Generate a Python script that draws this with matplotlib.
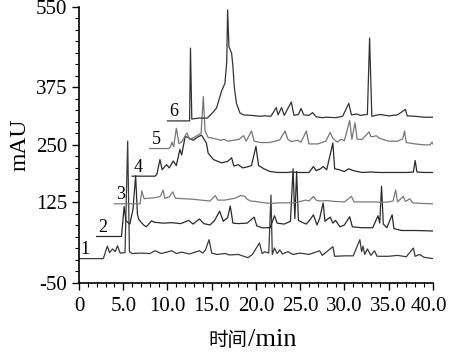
import matplotlib
matplotlib.use("Agg")
import matplotlib.pyplot as plt
import matplotlib.transforms as mtrans
from matplotlib.ticker import MultipleLocator

plt.rcParams['font.family'] = ['Liberation Serif', 'Noto Sans CJK SC']
plt.rcParams['axes.unicode_minus'] = False

# six stacked chromatograms (time in min, signal in mAU as plotted)
t1_time = [0, 2.75, 3.2, 3.45, 3.8, 4.1, 4.35, 4.65, 5.2, 5.5, 5.7, 6.0, 7.0, 8.0, 8.6, 9.3,
           10.5, 11.0, 11.6, 12.5, 13.6, 14.0, 14.3, 14.7, 15.0, 15.6, 16.5, 17.0, 18.0, 19.1,
           19.6, 20.4, 20.7, 21.0, 21.45, 21.7, 21.85, 22.1, 22.4, 22.7, 23.0, 23.6, 24.2, 25.0,
           26.0, 27.2, 27.5, 28.7, 28.9, 30.0, 31.0, 31.75, 31.95, 32.1, 32.3, 32.6, 33.0, 33.4,
           33.7, 35.0, 36.0, 37.0, 37.8, 38.0, 38.5, 39.0, 40.0]
t1_mau = [3, 3, 30, 16, 24, 18, 31, 15, 16, 258, 18, 14, 15, 14, 20, 14,
          20, 14, 17, 13, 20, 15, 22, 44, 15, 12, 14, 11, 12, 5,
          12, 37, 14, 18, 15, 141, 12, 26, 14, 22, 13, 18, 12, 15,
          12, 20, 10, 29, 8, 9, 9, 44, 18, 30, 12, 24, 10, 20,
          8, 8, 10, 7, 26, 8, 12, 6, 3]

t2_time = [2.0, 4.8, 5.1, 5.3, 5.75, 6.1, 6.4, 6.6, 6.75, 7.3, 7.6, 8.2, 8.5, 9.5, 10.5, 11.5,
           12.4, 12.9, 13.6, 14.1, 14.8, 15.3, 15.9, 16.3, 16.8, 17.1, 17.4, 18.0, 19.0, 19.5,
           19.8, 20.1, 20.7, 21.6, 22.1, 22.4, 23.2, 23.9, 24.2, 24.4, 24.6, 24.8, 25.3, 25.7,
           26.1, 26.5, 26.9, 27.2, 27.6, 27.8, 28.4, 28.7, 29.0, 29.5, 30.0, 30.6, 30.9, 32.0,
           33.2, 33.8, 34.0, 34.2, 34.4, 34.8, 35.4, 35.6, 36.5, 38.0, 40.0]
t2_mau = [51, 51, 116, 85, 78, 110, 183, 100, 88, 76, 72, 85, 82, 80, 81, 79,
          86, 78, 89, 79, 76, 85, 106, 84, 92, 117, 80, 79, 80, 88,
          93, 74, 70, 70, 96, 80, 78, 84, 198, 90, 192, 86, 81, 78,
          87, 98, 76, 90, 124, 84, 93, 80, 86, 72, 76, 94, 72, 70,
          70, 96, 80, 160, 78, 70, 98, 68, 64, 64, 63]

t3_time = [4.0, 6.9, 7.1, 7.35, 7.8, 8.5, 9.2, 9.5, 9.7, 10.2, 10.6, 10.9, 11.8, 12.8, 13.8,
           14.8, 15.4, 15.7, 16.5, 17.6, 18.3, 18.75, 19.0, 19.4, 20.0, 21.0, 21.8, 22.5, 23.5,
           24.3, 25.0, 25.6, 26.0, 26.5, 26.8, 27.2, 28.0, 29.0, 30.0, 30.8, 31.1, 32.5, 33.6,
           34.2, 35.0, 35.5, 35.8, 36.0, 36.65, 36.9, 37.4, 37.7, 38.5, 40.0]
t3_mau = [122, 122, 150, 133, 134, 135, 138, 152, 134, 137, 148, 134, 133, 132, 130,
          128, 140, 130, 130, 134, 140, 138, 132, 128, 127, 124, 123, 124, 124,
          124, 127, 130, 128, 138, 130, 128, 129, 127, 126, 138, 126, 126, 126,
          125, 126, 128, 152, 126, 138, 127, 133, 124, 123, 122]

t4_time = [6.0, 8.6, 8.8, 9.15, 9.4, 9.9, 10.2, 10.65, 11.0, 11.4, 11.6, 12.0, 12.35, 12.9,
           13.5, 13.85, 14.4, 14.6, 15.2, 16.1, 16.8, 17.25, 17.5, 18.0, 18.5, 19.0, 19.5,
           20.0, 20.3, 20.9, 21.6, 22.5, 23.5, 24.0, 25.0, 26.0, 26.5, 26.8, 27.3, 27.6, 28.0,
           28.7, 28.9, 29.4, 30.0, 30.5, 31.0, 32.0, 33.0, 34.0, 35.0, 36.0, 37.0, 37.8, 38.0,
           38.2, 39.0, 40.0]
t4_mau = [182, 182, 186, 218, 196, 207, 200, 215, 205, 240, 228, 268, 266, 260,
          268, 271, 254, 232, 218, 211, 214, 222, 204, 207, 200, 202, 205,
          247, 205, 198, 192, 190, 190, 191, 190, 190, 203, 194, 198, 203, 196,
          254, 198, 196, 192, 198, 194, 190, 191, 190, 190, 190, 190, 191, 216,
          191, 190, 190]

t5_time = [8.0, 10.2, 10.35, 10.5, 10.7, 11.0, 11.3, 11.6, 12.2, 12.5, 13.0, 13.5, 13.8, 14.05,
           14.25, 14.6, 15.0, 16.0, 16.4, 16.8, 17.5, 18.1, 18.6, 18.9, 19.5, 19.8, 20.5, 21.5,
           22.2, 22.7, 23.3, 23.6, 24.0, 24.7, 25.1, 25.7, 26.0, 27.0, 27.9, 28.4, 28.7, 29.2,
           29.6, 30.0, 30.6, 30.85, 31.2, 31.45, 32.0, 32.8, 33.0, 33.3, 33.6, 34.0, 35.0, 36.0,
           36.6, 36.8, 37.0, 38.0, 39.0, 39.7, 39.9, 40.0]
t5_mau = [242, 242, 246, 256, 246, 286, 253, 256, 276, 262, 266, 272, 275, 355,
          280, 266, 265, 260, 262, 258, 260, 262, 270, 258, 280, 258, 255, 255,
          258, 261, 280, 262, 257, 260, 256, 280, 252, 252, 258, 277, 264, 256,
          262, 259, 303, 262, 298, 262, 262, 278, 268, 268, 270, 264, 258, 258,
          263, 280, 255, 252, 250, 250, 256, 252]

t6_time = [10.0, 12.5, 12.6, 12.75, 13.5, 14.5, 15.2, 15.55, 16.1, 16.5, 16.7, 16.8, 16.95,
           17.25, 17.4, 17.55, 17.8, 18.2, 18.6, 19.5, 20.5, 21.0, 21.7, 22.3, 22.5, 22.9,
           23.2, 24.0, 24.3, 24.8, 25.1, 25.4, 26.0, 26.4, 26.8, 27.5, 28.0, 29.0, 29.8, 30.5,
           30.8, 31.4, 31.8, 32.6, 32.85, 33.1, 34.0, 35.0, 36.0, 36.9, 37.1, 38.0, 39.0, 40.0]
t6_mau = [302, 302, 460, 306, 308, 308, 322, 330, 366, 384, 430, 543, 463,
          449, 420, 376, 340, 319, 315, 314, 312, 313, 312, 331, 315, 331,
          314, 343, 314, 316, 329, 315, 314, 320, 311, 309, 310, 309, 312, 340,
          315, 317, 314, 316, 482, 312, 316, 313, 315, 327, 313, 312, 310, 310]

trace_names = ["1", "2", "3", "4", "5", "6"]
xtick_labels = ["0", "5.0", "10.0", "15.0", "20.0", "25.0", "30.0", "35.0", "40.0"]
ytick_values = [-50, 125, 250, 375, 550]

times = [t1_time, t2_time, t3_time, t4_time, t5_time, t6_time]
signals = [t1_mau, t2_mau, t3_mau, t4_mau, t5_mau, t6_mau]
colors = ["#3a3a3a", "#2a2a2a", "#7a7a7a", "#2a2a2a", "#777777", "#333333"]

fig = plt.figure(figsize=(4.49, 3.52), dpi=100)
ax = fig.add_axes([0.176, 0.196, 0.788, 0.785])

for name, t, s, c in zip(trace_names, times, signals, colors):
    ax.plot(t, s, color=c, linewidth=0.9)
    # sample number sits on the flat lead-in line
    ax.text(t[0] + (0.1 if t[0] == 0 else 0.2), s[0] + 1, name,
            fontsize=13, ha="left", va="bottom")

ax.set_xlim(0, 40)
ax.set_ylim(-50, 550)
ax.set_xticks([0, 5, 10, 15, 20, 25, 30, 35, 40])
ax.set_xticklabels(xtick_labels)
ax.set_yticks(ytick_values)
ax.xaxis.set_minor_locator(MultipleLocator(1))
ax.yaxis.set_minor_locator(MultipleLocator(25))
ax.tick_params(which="major", length=5, width=1, labelsize=15, direction="out")
ax.tick_params(which="minor", length=3, width=0.8, direction="out")
ax.tick_params(axis="x", pad=5)

# last label hugs the right edge in the original; keep it inside the canvas
last = ax.get_xticklabels()[-1]
last.set_horizontalalignment("right")
last.set_transform(last.get_transform() + mtrans.ScaledTranslation(10 / 72, 0, fig.dpi_scale_trans))

for side in ["top", "right"]:
    ax.spines[side].set_visible(False)
for side in ["left", "bottom"]:
    ax.spines[side].set_linewidth(1.2)

ax.set_ylabel("mAU", fontsize=17, labelpad=4)

# x label: smaller CJK part, larger latin part, as in the original
fig.text(0.552, 0.018, "时间", fontsize=14, family="Noto Sans CJK SC",
         ha="right", va="baseline")
fig.text(0.552, 0.018, "/min", fontsize=19, ha="left", va="baseline")

fig.savefig("out.png", dpi=100)
